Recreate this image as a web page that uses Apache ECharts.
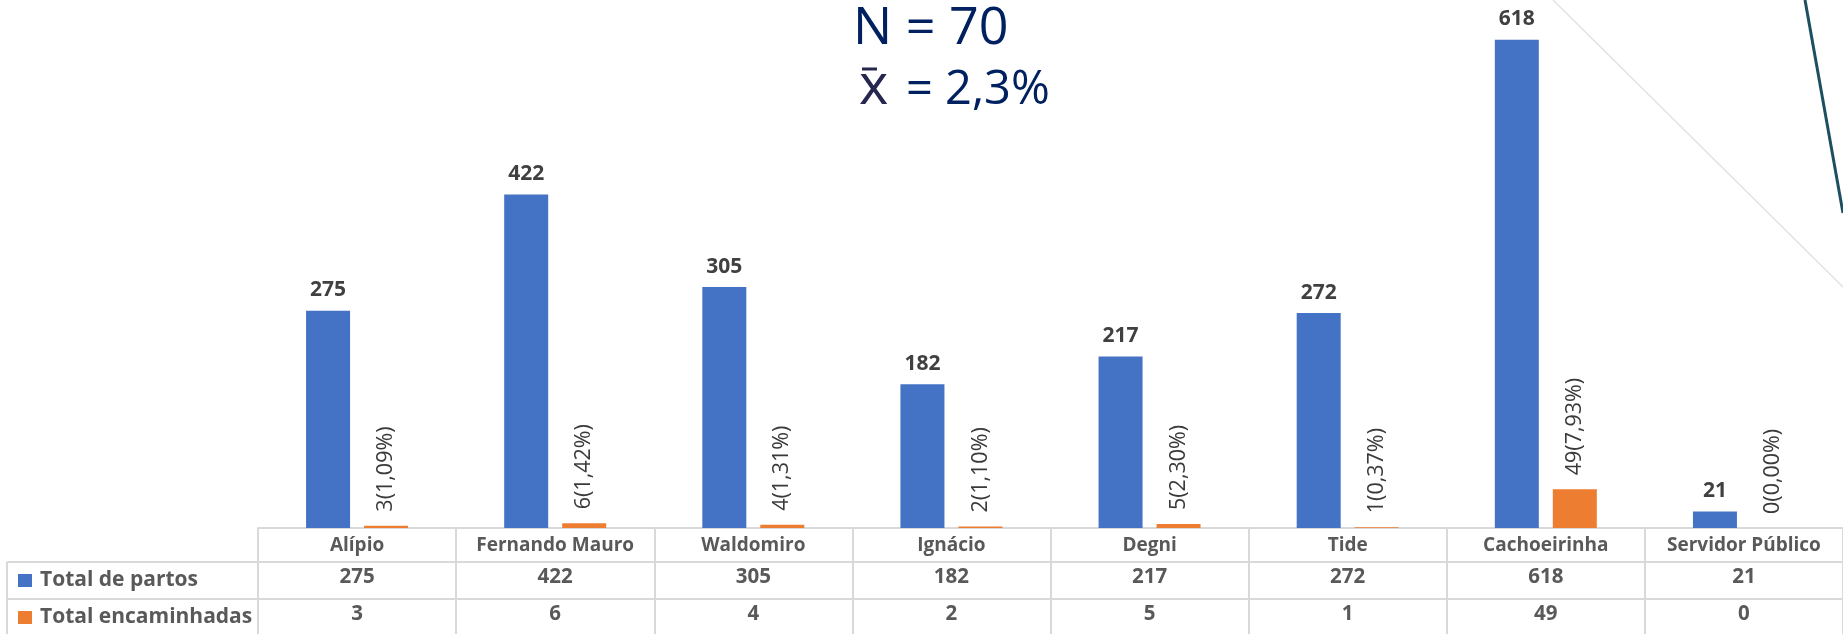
<!DOCTYPE html>
<html>
<head>
<meta charset="utf-8">
<script src="https://cdn.jsdelivr.net/npm/echarts@6/dist/echarts.min.js"></script>
<style>
  html, body { margin: 0; padding: 0; background: #ffffff; }
  #chart { width: 1843px; height: 634px; }
</style>
</head>
<body>
<div id="chart"></div>
<script>
// ---- data ----
var categories = ['Alípio', 'Fernando Mauro', 'Waldomiro', 'Ignácio', 'Degni', 'Tide', 'Cachoeirinha', 'Servidor Público'];
var seriesNames = ['Total de partos', 'Total encaminhadas'];
var totalPartos = [275, 422, 305, 182, 217, 272, 618, 21];
var totalEncaminhadas = [3, 6, 4, 2, 5, 1, 49, 0];
var pctLabels = ['1,09%', '1,42%', '1,31%', '1,10%', '2,30%', '0,37%', '7,93%', '0,00%'];
var titleN = 'N = 70';
var titleMean = '= 2,3%';

// ---- layout/style ----
var FONT = 'Open Sans';
var GRID_LEFT = 258;
var COL_W = 199.2;
var BASE_Y = 528;
var LINE_C = '#d9d9d9';
var TEXT_C = '#595959';

var chart = echarts.init(document.getElementById('chart'), null, { renderer: 'canvas' });

var option = {
  backgroundColor: '#ffffff',
  animation: false,
  color: ['#4472C4', '#ED7D31'],
  grid: { left: GRID_LEFT, top: 14.5, width: COL_W * categories.length, bottom: 634 - BASE_Y, containLabel: false },
  legend: {
    data: seriesNames,
    orient: 'vertical',
    left: 18,
    top: 570,
    padding: 0,
    itemWidth: 14,
    itemHeight: 13,
    itemGap: 16,
    icon: 'rect',
    selectedMode: false,
    textStyle: { fontFamily: FONT, fontSize: 21, fontWeight: 'bold', color: TEXT_C, lineHeight: 21, padding: [0, 0, 0, 3] }
  },
  xAxis: {
    type: 'category',
    data: categories,
    boundaryGap: true,
    axisLine: { show: true, lineStyle: { color: LINE_C, width: 2 } },
    axisTick: { show: true, inside: false, length: 110, lineStyle: { color: LINE_C, width: 2 } },
    splitLine: { show: false },
    axisLabel: {
      interval: 0,
      margin: 0,
      verticalAlign: 'top',
      formatter: function (v, i) {
        return '{h|' + v + '}\n{r|' + totalPartos[i] + '}\n{r|' + totalEncaminhadas[i] + '}';
      },
      rich: {
        h: { fontFamily: FONT, fontSize: 19, fontWeight: 'bold', color: TEXT_C, lineHeight: 31, padding: [4, 0, 0, 0], align: 'center' },
        r: { fontFamily: FONT, fontSize: 20.5, fontWeight: 'bold', color: TEXT_C, lineHeight: 37, align: 'center' }
      }
    }
  },
  yAxis: {
    type: 'value',
    min: 0,
    max: 650,
    show: false
  },
  graphic: [
    // table horizontal lines for the data rows
    { type: 'line', shape: { x1: 7, y1: 562, x2: 1843, y2: 562 }, style: { stroke: LINE_C, lineWidth: 2 }, silent: true },
    { type: 'line', shape: { x1: 7, y1: 599, x2: 1843, y2: 599 }, style: { stroke: LINE_C, lineWidth: 2 }, silent: true },
    { type: 'line', shape: { x1: 7, y1: 562, x2: 7, y2: 634 }, style: { stroke: LINE_C, lineWidth: 2 }, silent: true },
    // slide decorations
    { type: 'line', shape: { x1: 1553, y1: 0, x2: 1843, y2: 287 }, style: { stroke: '#e2e2e2', lineWidth: 1.5 }, silent: true },
    { type: 'line', shape: { x1: 1805, y1: 0, x2: 1843, y2: 213 }, style: { stroke: '#1d4f63', lineWidth: 3 }, silent: true },
    // title
    { type: 'text', x: 853, y: 29, style: { text: titleN, fontFamily: FONT, fontSize: 52, fill: '#002060', align: 'left', verticalAlign: 'middle' }, silent: true },
    { type: 'text', x: 859, y: 88, style: { text: 'x', fontFamily: FONT, fontSize: 56, fill: '#262650', align: 'left', verticalAlign: 'middle' }, silent: true },
    { type: 'line', shape: { x1: 862, y1: 69, x2: 877, y2: 69 }, style: { stroke: '#262650', lineWidth: 3 }, silent: true },
    { type: 'text', x: 906, y: 91, style: { text: titleMean, fontFamily: FONT, fontSize: 47, fill: '#002060', align: 'left', verticalAlign: 'middle' }, silent: true }
  ],
  series: [
    {
      name: seriesNames[0],
      type: 'bar',
      data: totalPartos,
      barWidth: 44,
      barGap: '31.8%',
      label: {
        show: true,
        position: 'top',
        distance: 10,
        fontFamily: FONT,
        fontSize: 21,
        fontWeight: 'bold',
        color: '#404040'
      }
    },
    {
      name: seriesNames[1],
      type: 'bar',
      data: totalEncaminhadas,
      barWidth: 44,
      label: {
        show: true,
        position: 'top',
        distance: 14,
        rotate: 90,
        align: 'left',
        verticalAlign: 'middle',
        fontFamily: FONT,
        fontSize: 21.5,
        color: '#3a3a3a',
        formatter: function (p) { return p.value + '(' + pctLabels[p.dataIndex] + ')'; }
      }
    }
  ]
};

chart.setOption(option);
</script>
</body>
</html>
